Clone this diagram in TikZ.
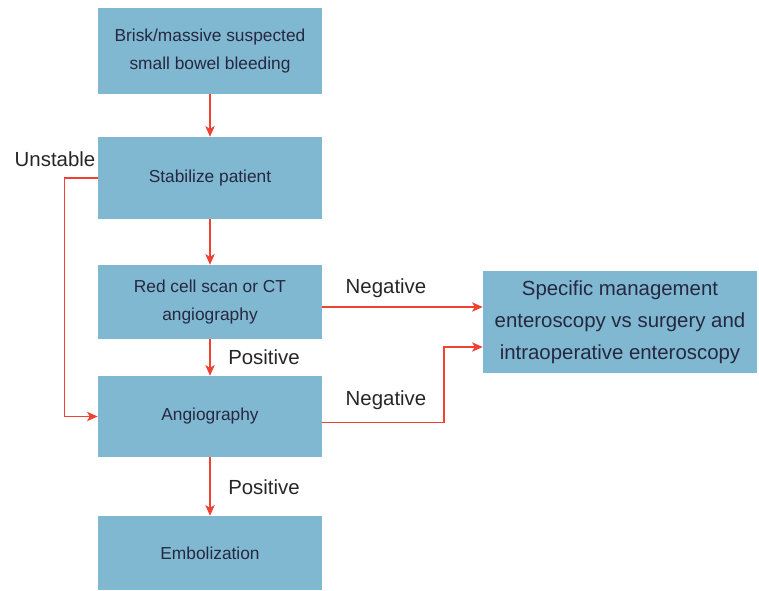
\documentclass[tikz,border=0pt]{standalone}
\usepackage{fontspec}
\setmainfont{Liberation Sans}
\usetikzlibrary{calc,arrows.meta}
\definecolor{boxblue}{HTML}{80B8D2}
\definecolor{flowred}{HTML}{EE4233}
\definecolor{boxtext}{HTML}{25283F}

\begin{document}
\begin{tikzpicture}[x=0.75pt, y=-0.75pt,
  stepbox/.style={fill=boxblue, draw=none, text=boxtext, align=center,
    minimum width=168pt, font=\fontsize{13}{20.5}\selectfont},
  flow/.style={draw=flowred, line width=1pt, -{Stealth[length=8pt,width=7pt,inset=2pt]}},
  lbl/.style={font=\fontsize{15.3}{18}\selectfont, text=black!85}]
\useasboundingbox (0,0) rectangle (759,590);
\node[stepbox, minimum height=64.5pt] (bleed) at (210,51) {Brisk/massive suspected\\small bowel bleeding};
\node[stepbox, minimum height=61.5pt] (stab) at (210,178) {Stabilize patient};
\node[stepbox, minimum height=55.5pt] (scan) at (210,302) {Red cell scan or CT\\angiography};
\node[stepbox, minimum height=60.75pt] (angio) at (210,416.5) {Angiography};
\node[stepbox, minimum height=55.5pt] (embo) at (210,553) {Embolization};
\node[stepbox, minimum width=205.5pt, minimum height=76.5pt,
  font=\fontsize{15.3}{23.8}\selectfont] (spec) at (620,322)
  {Specific management\\enteroscopy vs surgery and\\intraoperative enteroscopy};
% labels
\node[lbl] (unst) at (55,159) {Unstable};
\node[lbl] (neg1) at (386,288) {Negative};
\node[lbl] (neg2) at (386,400) {Negative};
\node[lbl] (pos1) at (264,357) {Positive};
\node[lbl] (pos2) at (264,487) {Positive};
% connectors
\coordinate (neg1start) at ($(scan.east)+(0,5)$);
\coordinate (neg2start) at ($(angio.east)+(0,6)$);
\coordinate (neg2bend) at (444,347);
\draw[flow] (bleed) -- (stab);
\draw[flow] (stab) -- (scan);
\draw[flow] (scan) -- (angio);
\draw[flow] (angio) -- (embo);
\draw[flow] (stab.west) -- ++(-33,0) |- (angio.west);
\draw[flow] (neg1start) -- (neg1start -| spec.west);
\draw[flow] (neg2start) -| (neg2bend) -- (neg2bend -| spec.west);
\end{tikzpicture}
\end{document}
